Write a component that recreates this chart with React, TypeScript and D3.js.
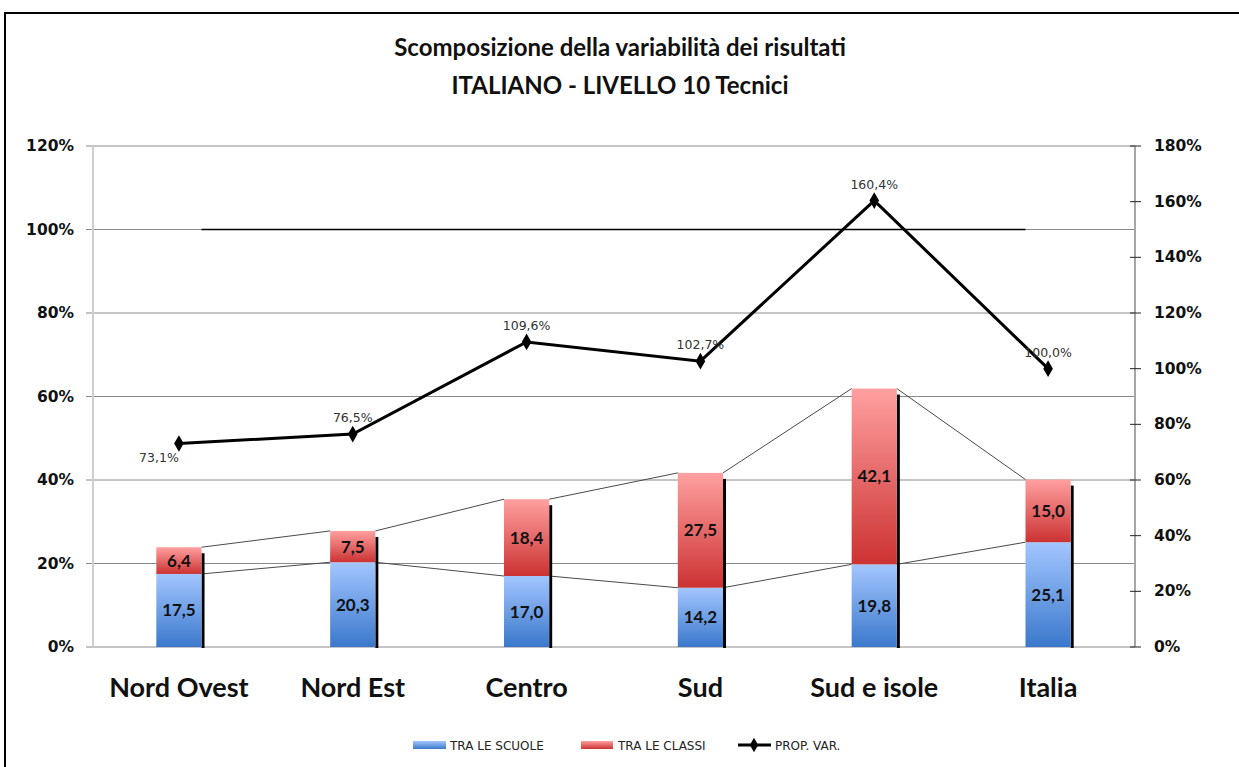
import React, { useEffect, useRef } from 'react'
import * as d3 from 'd3'

const categories = ['Nord Ovest', 'Nord Est', 'Centro', 'Sud', 'Sud e isole', 'Italia']
const traScuole = [17.5, 20.3, 17.0, 14.2, 19.8, 25.1]
const traClassi = [6.4, 7.5, 18.4, 27.5, 42.1, 15.0]
const propVar = [73.1, 76.5, 109.6, 102.7, 160.4, 100.0]
const leftTicks = [0, 20, 40, 60, 80, 100, 120]
const rightTicks = [0, 20, 40, 60, 80, 100, 120, 140, 160, 180]
const titleLines = ['Scomposizione della variabilità dei risultati', 'ITALIANO - LIVELLO 10 Tecnici']
const legendItems = ['TRA LE SCUOLE', 'TRA LE CLASSI', 'PROP. VAR.']

const fmt = (v: number) => v.toFixed(1).replace('.', ',')

export default function App() {
  const chart = useRef<SVGSVGElement>(null)

  useEffect(() => {
    document.body.style.margin = '0'
    const w = 1239
    const h = 767
    const left = 92
    const right = 1135
    const top = 146
    const bottom = 647

    const svg = d3.select(chart.current)
    svg.selectAll('*').remove()
    svg.attr('width', w).attr('height', h)

    // GRADIENTS
    const defs = svg.append('defs')
    const grad = (id: string, c1: string, c2: string) => {
      const g = defs.append('linearGradient').attr('id', id)
        .attr('x1', 0).attr('y1', 0).attr('x2', 0).attr('y2', 1)
      g.append('stop').attr('offset', '0%').attr('stop-color', c1)
      g.append('stop').attr('offset', '100%').attr('stop-color', c2)
    }
    grad('gBlue', '#a3c6ff', '#3b78cb')
    grad('gRed', '#ffa0a0', '#cc3232')

    svg.append('rect').attr('width', w).attr('height', h).attr('fill', '#fff')

    // BORDER
    svg.append('rect')
      .attr('x', 5).attr('y', 13).attr('width', 1300).attr('height', 900)
      .attr('fill', 'none').attr('stroke', '#000').attr('stroke-width', 2)

    // TITLE
    svg.append('g').selectAll('text')
      .data(titleLines)
      .join('text')
      .attr('x', 620)
      .attr('y', (d, i) => 56 + i * 38)
      .attr('text-anchor', 'middle')
      .attr('font-family', 'Lato')
      .attr('font-weight', 'bold')
      .attr('font-size', 24)
      .attr('fill', '#111')
      .text(d => d)

    const x = d3.scaleBand<string>().domain(categories).range([left, right])
      .paddingInner(0.74).paddingOuter(0.37)
    const bw = x.bandwidth()
    const cx = (c: string) => (x(c) as number) + bw / 2
    const yL = d3.scaleLinear().domain([0, 120]).range([bottom, top])
    const yR = d3.scaleLinear().domain([0, 180]).range([bottom, top])

    // GRID
    svg.append('g').selectAll('line')
      .data(leftTicks)
      .join('line')
      .attr('x1', left - 6).attr('x2', right)
      .attr('y1', d => yL(d)).attr('y2', d => yL(d))
      .attr('stroke', '#8a8a8a').attr('stroke-width', 1)

    // 100% reference line
    svg.append('line')
      .attr('x1', (x(categories[0]) as number) + bw)
      .attr('x2', x(categories[categories.length - 1]) as number)
      .attr('y1', yL(100)).attr('y2', yL(100))
      .attr('stroke', '#000').attr('stroke-width', 1.5)

    // AXIS LINES
    svg.append('line').attr('x1', left + 1).attr('x2', left + 1)
      .attr('y1', top).attr('y2', bottom)
      .attr('stroke', '#cfcfcf').attr('stroke-width', 2)
    svg.append('line').attr('x1', right).attr('x2', right)
      .attr('y1', top).attr('y2', bottom)
      .attr('stroke', '#a6a6a6').attr('stroke-width', 2)

    // LEFT LABELS
    svg.append('g').selectAll('text')
      .data(leftTicks)
      .join('text')
      .attr('x', 74)
      .attr('y', d => yL(d) + 5)
      .attr('text-anchor', 'end')
      .attr('font-family', 'DejaVu Sans')
      .attr('font-weight', 'bold')
      .attr('font-size', 15.5)
      .attr('fill', '#111')
      .text(d => `${d}%`)

    // RIGHT TICKS & LABELS
    svg.append('g').selectAll('line')
      .data(rightTicks)
      .join('line')
      .attr('x1', right - 5).attr('x2', right + 6)
      .attr('y1', d => yR(d)).attr('y2', d => yR(d))
      .attr('stroke', '#222').attr('stroke-width', 1)
    svg.append('g').selectAll('text')
      .data(rightTicks)
      .join('text')
      .attr('x', 1154)
      .attr('y', d => yR(d) + 5)
      .attr('font-family', 'DejaVu Sans')
      .attr('font-weight', 'bold')
      .attr('font-size', 15.5)
      .attr('fill', '#111')
      .text(d => `${d}%`)

    // CONNECTOR LINES
    const totals = traScuole.map((v, i) => v + traClassi[i])
    const conn = svg.append('g')
    ;[traScuole, totals].forEach(series => {
      series.slice(0, -1).forEach((v, i) => {
        conn.append('line')
          .attr('x1', (x(categories[i]) as number) + bw)
          .attr('y1', yL(v))
          .attr('x2', x(categories[i + 1]) as number)
          .attr('y2', yL(series[i + 1]))
          .attr('stroke', '#4a4a4a').attr('stroke-width', 1)
      })
    })

    // BARS
    const bars = svg.append('g').selectAll('g')
      .data(categories)
      .join('g')
    bars.append('rect')
      .attr('x', d => (x(d) as number) + bw)
      .attr('y', (d, i) => yL(totals[i]) + 6)
      .attr('width', 3)
      .attr('height', (d, i) => bottom - yL(totals[i]) - 5)
      .attr('fill', '#000')
    bars.append('rect')
      .attr('x', d => x(d) as number)
      .attr('y', (d, i) => yL(traScuole[i]))
      .attr('width', bw)
      .attr('height', (d, i) => bottom - yL(traScuole[i]))
      .attr('fill', 'url(#gBlue)')
    bars.append('rect')
      .attr('x', d => x(d) as number)
      .attr('y', (d, i) => yL(totals[i]))
      .attr('width', bw)
      .attr('height', (d, i) => yL(traScuole[i]) - yL(totals[i]))
      .attr('fill', 'url(#gRed)')
    bars.append('text')
      .attr('x', d => cx(d))
      .attr('y', (d, i) => (yL(traScuole[i]) + bottom) / 2 + 6)
      .text((d, i) => fmt(traScuole[i]))
    bars.append('text')
      .attr('x', d => cx(d))
      .attr('y', (d, i) => (yL(traScuole[i]) + yL(totals[i])) / 2 + 6)
      .text((d, i) => fmt(traClassi[i]))
    bars.selectAll('text')
      .attr('text-anchor', 'middle')
      .attr('font-family', 'Lato')
      .attr('font-weight', 'bold')
      .attr('font-size', 17)
      .attr('fill', '#111')

    // LINE
    const pts = categories.map((c, i) => [cx(c), yR(propVar[i])] as [number, number])
    svg.append('path')
      .attr('d', d3.line()(pts))
      .attr('fill', 'none')
      .attr('stroke', '#000')
      .attr('stroke-width', 3)
    svg.append('g').selectAll('path')
      .data(pts)
      .join('path')
      .attr('transform', d => `translate(${d[0]},${d[1]})`)
      .attr('d', d3.symbol().type(d3.symbolDiamond).size(80)())
      .attr('fill', '#000')
    svg.append('g').selectAll('text')
      .data(pts)
      .join('text')
      .attr('x', (d, i) => i === 0 ? d[0] - 20 : d[0])
      .attr('y', (d, i) => i === 0 ? d[1] + 18 : d[1] - 12)
      .attr('text-anchor', 'middle')
      .attr('font-family', 'DejaVu Sans')
      .attr('font-size', 12.5)
      .attr('fill', '#333')
      .text((d, i) => `${fmt(propVar[i])}%`)

    // CATEGORY LABELS
    svg.append('g').selectAll('text')
      .data(categories)
      .join('text')
      .attr('x', d => cx(d))
      .attr('y', 697)
      .attr('text-anchor', 'middle')
      .attr('font-family', 'Lato')
      .attr('font-weight', 'bold')
      .attr('font-size', 27)
      .attr('fill', '#111')
      .text(d => d)

    // LEGEND
    const lg = svg.append('g')
    const lx = [413, 581, 738]
    lg.append('rect').attr('x', lx[0]).attr('y', 741).attr('width', 33).attr('height', 8).attr('fill', 'url(#gBlue)')
    lg.append('rect').attr('x', lx[1]).attr('y', 741).attr('width', 32).attr('height', 8).attr('fill', 'url(#gRed)')
    lg.append('line').attr('x1', lx[2]).attr('x2', lx[2] + 33).attr('y1', 745).attr('y2', 745)
      .attr('stroke', '#000').attr('stroke-width', 3)
    lg.append('path').attr('transform', `translate(${lx[2] + 16},745)`)
      .attr('d', d3.symbol().type(d3.symbolDiamond).size(60)())
    lg.selectAll('text')
      .data(legendItems)
      .join('text')
      .attr('x', (d, i) => lx[i] + 37)
      .attr('y', 750)
      .attr('font-family', 'DejaVu Sans')
      .attr('font-size', 12)
      .attr('fill', '#222')
      .text(d => d)
  })

  return (
    <svg ref={chart} style={{ display: 'block' }}></svg>
  )
}
